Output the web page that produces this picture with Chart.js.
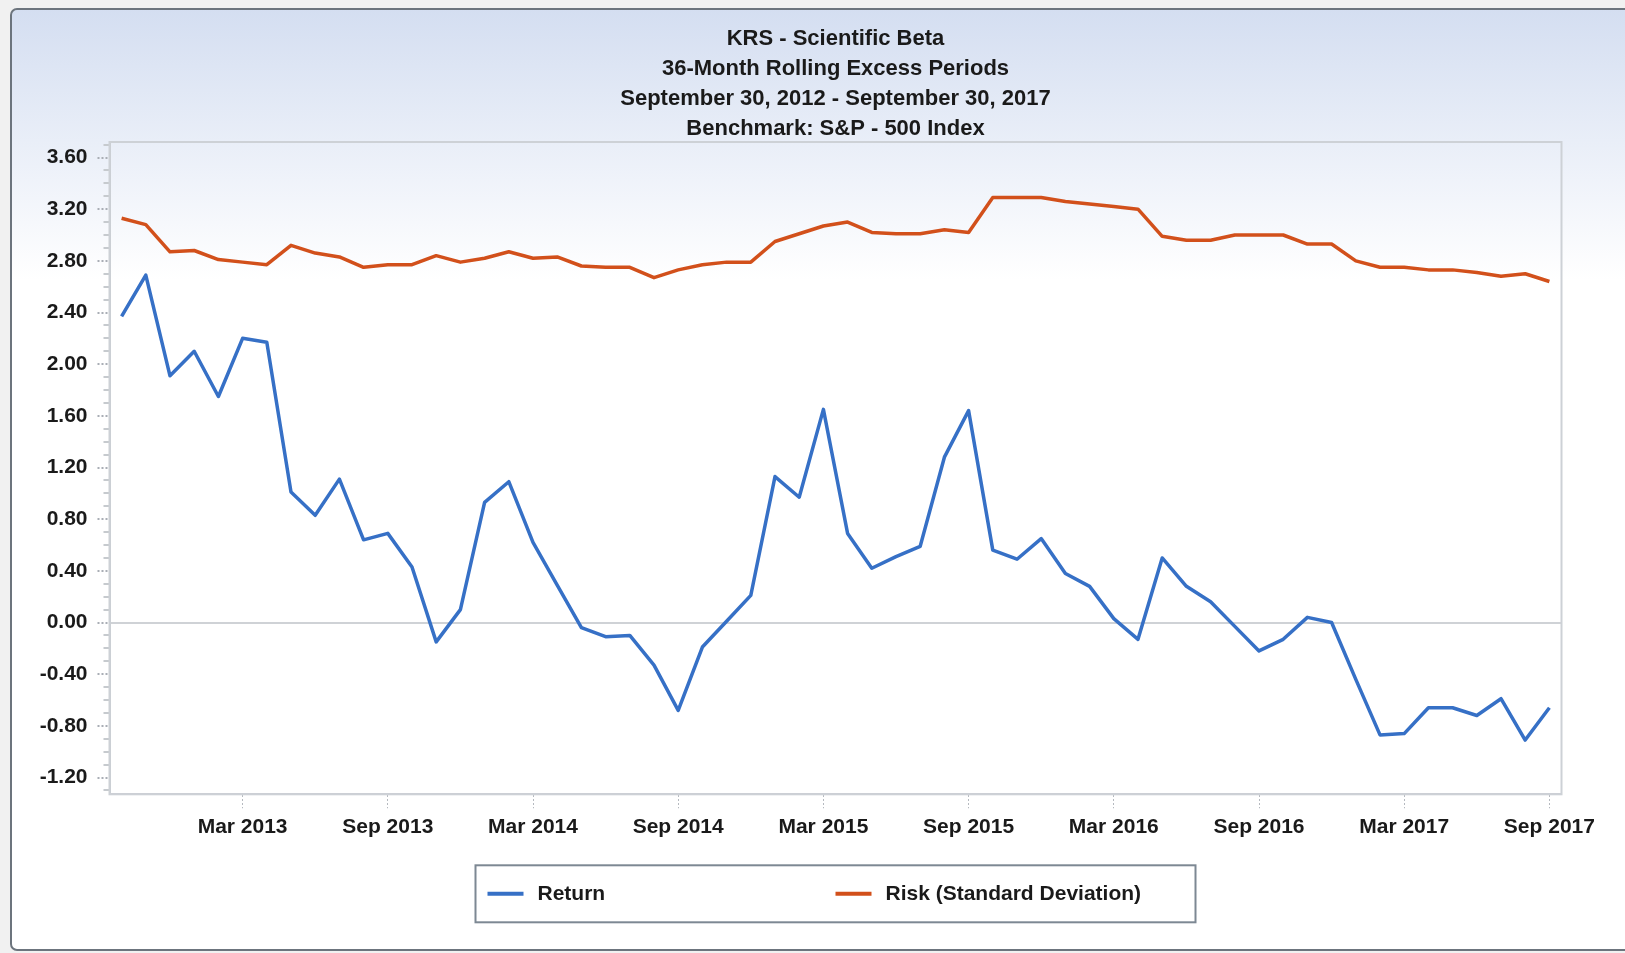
<!DOCTYPE html>
<html>
<head>
<meta charset="utf-8">
<title>KRS - Scientific Beta</title>
<script src="https://cdn.jsdelivr.net/npm/chart.js@4.4.1/dist/chart.umd.min.js"></script>
<style>
  html, body { margin: 0; padding: 0; background: #f1f1f1; }
  canvas { display: block; }
</style>
</head>
<body>
<canvas id="chart" width="1625" height="953"></canvas>
<script>
const titleLines = [
  "KRS - Scientific Beta",
  "36-Month Rolling Excess Periods",
  "September 30, 2012 - September 30, 2017",
  "Benchmark: S&P - 500 Index"
];

// monthly periods, Oct 2012 .. Sep 2017
const monthNames = ["Jan", "Feb", "Mar", "Apr", "May", "Jun", "Jul", "Aug", "Sep", "Oct", "Nov", "Dec"];
const months = [];
for (let y = 2012, m = 9; months.length < 60; m++) {
  if (m === 12) { m = 0; y++; }
  months.push(monthNames[m] + " " + y);
}

const returnValues = [
  2.37, 2.69, 1.91, 2.10, 1.75, 2.20, 2.17, 1.01, 0.83, 1.11,
  0.64, 0.69, 0.43, -0.15, 0.10, 0.93, 1.09, 0.62, 0.29, -0.04,
  -0.11, -0.10, -0.33, -0.68, -0.19, 0.01, 0.21, 1.13, 0.97, 1.65,
  0.69, 0.42, 0.51, 0.59, 1.28, 1.64, 0.56, 0.49, 0.65, 0.38,
  0.28, 0.03, -0.13, 0.50, 0.28, 0.16, -0.03, -0.22, -0.13, 0.04,
  0.00, -0.44, -0.87, -0.86, -0.66, -0.66, -0.72, -0.59, -0.91, -0.66
];

const riskValues = [
  3.13, 3.08, 2.87, 2.88, 2.81, 2.79, 2.77, 2.92, 2.86, 2.83,
  2.75, 2.77, 2.77, 2.84, 2.79, 2.82, 2.87, 2.82, 2.83, 2.76,
  2.75, 2.75, 2.67, 2.73, 2.77, 2.79, 2.79, 2.95, 3.01, 3.07,
  3.10, 3.02, 3.01, 3.01, 3.04, 3.02, 3.29, 3.29, 3.29, 3.26,
  3.24, 3.22, 3.20, 2.99, 2.96, 2.96, 3.00, 3.00, 3.00, 2.93,
  2.93, 2.80, 2.75, 2.75, 2.73, 2.73, 2.71, 2.68, 2.70, 2.64
];

const seriesNames = ["Return", "Risk (Standard Deviation)"];
const seriesColors = ["#3670c6", "#d2501b"];

const FONT = '"Liberation Sans", Arial, sans-serif';
const TEXT = "#1a1a1a";

// panel with rounded border and blue-to-white gradient
const panelBackground = {
  id: "panelBackground",
  beforeDraw(chart) {
    const { ctx, width, height } = chart;
    ctx.save();
    ctx.fillStyle = "#f1f1f1";
    ctx.fillRect(0, 0, width, height);
    const x = 11, y = 9, w = width + 20, h = height - 12, r = 6;
    const grad = ctx.createLinearGradient(0, y, 0, 280);
    grad.addColorStop(0, "#d4def1");
    grad.addColorStop(1, "#ffffff");
    ctx.beginPath();
    ctx.moveTo(x + r, y);
    ctx.lineTo(x + w, y);
    ctx.lineTo(x + w, y + h);
    ctx.lineTo(x + r, y + h);
    ctx.arcTo(x, y + h, x, y + h - r, r);
    ctx.lineTo(x, y + r);
    ctx.arcTo(x, y, x + r, y, r);
    ctx.closePath();
    ctx.fillStyle = grad;
    ctx.fill();
    ctx.strokeStyle = "#6c747d";
    ctx.lineWidth = 2;
    ctx.stroke();
    ctx.restore();
  }
};

// light frame round the plot area
const plotFrame = {
  id: "plotFrame",
  beforeDatasetsDraw(chart) {
    const { ctx, chartArea: a } = chart;
    ctx.save();
    ctx.strokeStyle = "#cdd1d6";
    ctx.lineWidth = 2;
    ctx.strokeRect(a.left, a.top, a.right - a.left, a.bottom - a.top);
    ctx.restore();
  }
};

// boxed legend under the x axis
const boxLegend = {
  id: "boxLegend",
  afterDraw(chart) {
    const { ctx, chartArea: a } = chart;
    const w = 720, h = 57;
    const left = (a.left + a.right) / 2 - w / 2;
    const top = a.bottom + 71;
    ctx.save();
    ctx.strokeStyle = "#7d8893";
    ctx.lineWidth = 2;
    ctx.strokeRect(left, top, w, h);
    ctx.font = "bold 21px " + FONT;
    ctx.textBaseline = "middle";
    ctx.textAlign = "left";
    chart.data.datasets.forEach((ds, i) => {
      const x = left + 12 + i * 348;
      const y = top + h / 2;
      ctx.strokeStyle = ds.borderColor;
      ctx.lineWidth = 4;
      ctx.beginPath();
      ctx.moveTo(x, y);
      ctx.lineTo(x + 36, y);
      ctx.stroke();
      ctx.fillStyle = TEXT;
      ctx.fillText(ds.label, x + 50, y);
    });
    ctx.restore();
  }
};

const isMajor = (v) => Math.abs(Math.round(v / 0.4) * 0.4 - v) < 1e-6;
const isLabelled = (i) => /^(Mar|Sep)/.test(months[i]);

new Chart(document.getElementById("chart"), {
  type: "line",
  data: {
    labels: months,
    datasets: [
      {
        label: seriesNames[0],
        data: returnValues,
        borderColor: seriesColors[0],
        backgroundColor: seriesColors[0],
        borderWidth: 3.5,
        pointRadius: 0,
        tension: 0,
        borderJoinStyle: "round",
        fill: false
      },
      {
        label: seriesNames[1],
        data: riskValues,
        borderColor: seriesColors[1],
        backgroundColor: seriesColors[1],
        borderWidth: 3.5,
        pointRadius: 0,
        tension: 0,
        borderJoinStyle: "round",
        fill: false
      }
    ]
  },
  options: {
    responsive: false,
    animation: false,
    layout: {
      padding: { left: 0, right: 63.5, top: 0, bottom: 108.7 }
    },
    scales: {
      x: {
        type: "category",
        offset: true,
        afterFit(scale) { scale.height = 50; },
        border: { display: true, color: "#c9cdd3", width: 2 },
        grid: {
          drawOnChartArea: false,
          tickLength: 14,
          tickColor: (ctx) => isLabelled(ctx.index) ? "#b5b9bf" : "transparent",
          tickBorderDash: [2, 2]
        },
        ticks: {
          autoSkip: false,
          maxRotation: 0,
          minRotation: 0,
          padding: 6,
          color: TEXT,
          font: { family: FONT, size: 21, weight: "bold" },
          callback: (val, i) => isLabelled(i) ? months[i] : ""
        }
      },
      y: {
        min: -1.33,
        max: 3.72,
        afterFit(scale) { scale.width = 109.5; },
        border: { display: true, color: "#c9cdd3", width: 2 },
        grid: {
          color: (ctx) => ctx.tick && Math.abs(ctx.tick.value) < 1e-6 ? "#cfd2d6" : "transparent",
          lineWidth: 2,
          tickLength: 12,
          tickColor: (ctx) => ctx.tick && isMajor(ctx.tick.value) ? "#a9aeb5" : "#c6cace",
          tickBorderDash: (ctx) => ctx.tick && isMajor(ctx.tick.value) ? [2, 2] : [0, 6, 6, 0]
        },
        ticks: {
          stepSize: 0.1,
          includeBounds: false,
          autoSkip: false,
          padding: 10,
          color: TEXT,
          font: { family: FONT, size: 21, weight: "bold" },
          callback: (v) => isMajor(v) ? (Math.round(v * 100) / 100).toFixed(2) : ""
        }
      }
    },
    plugins: {
      legend: { display: false },
      tooltip: { enabled: false },
      title: {
        display: true,
        text: titleLines,
        fullSize: false,
        color: TEXT,
        font: { family: FONT, size: 22, weight: "bold", lineHeight: 30 / 22 },
        padding: { top: 24, bottom: -2 }
      }
    }
  },
  plugins: [panelBackground, plotFrame, boxLegend]
});
</script>
</body>
</html>
